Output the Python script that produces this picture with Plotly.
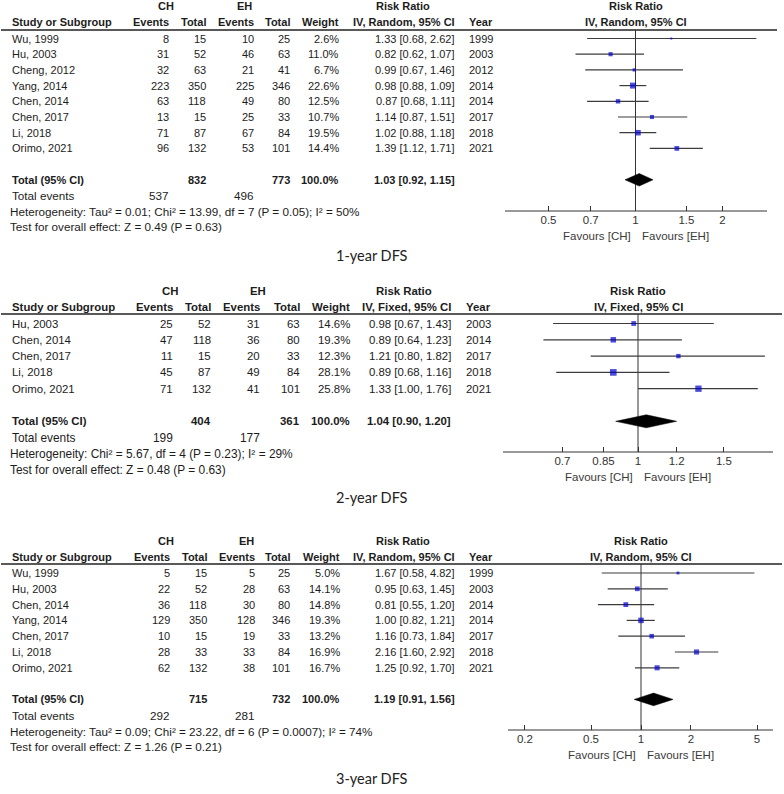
import math
import plotly.graph_objects as go

W, H = 784, 794

# ---------------- data ----------------
# Panel 1: 1-year DFS (IV, Random)
p1_study = ["Wu, 1999", "Hu, 2003", "Cheng, 2012", "Yang, 2014", "Chen, 2014", "Chen, 2017", "Li, 2018", "Orimo, 2021"]
p1_ch_events = [8, 31, 32, 223, 63, 13, 71, 96]
p1_ch_total = [15, 52, 63, 350, 118, 15, 87, 132]
p1_eh_events = [10, 46, 21, 225, 49, 25, 67, 53]
p1_eh_total = [25, 63, 41, 346, 80, 33, 84, 101]
p1_weight = [2.6, 11.0, 6.7, 22.6, 12.5, 10.7, 19.5, 14.4]
p1_rr = [1.33, 0.82, 0.99, 0.98, 0.87, 1.14, 1.02, 1.39]
p1_lo = [0.68, 0.62, 0.67, 0.88, 0.68, 0.87, 0.88, 1.12]
p1_hi = [2.62, 1.07, 1.46, 1.09, 1.11, 1.51, 1.18, 1.71]
p1_year = [1999, 2003, 2012, 2014, 2014, 2017, 2018, 2021]
p1_total = {"ch_total": 832, "eh_total": 773, "ch_events": 537, "eh_events": 496, "rr": 1.03, "lo": 0.92, "hi": 1.15}
p1_het = "Heterogeneity: Tau² = 0.01; Chi² = 13.99, df = 7 (P = 0.05); I² = 50%"
p1_test = "Test for overall effect: Z = 0.49 (P = 0.63)"
p1_ticks = [0.5, 0.7, 1, 1.5, 2]
p1_ticktext = ["0.5", "0.7", "1", "1.5", "2"]

# Panel 2: 2-year DFS (IV, Fixed)
p2_study = ["Hu, 2003", "Chen, 2014", "Chen, 2017", "Li, 2018", "Orimo, 2021"]
p2_ch_events = [25, 47, 11, 45, 71]
p2_ch_total = [52, 118, 15, 87, 132]
p2_eh_events = [31, 36, 20, 49, 41]
p2_eh_total = [63, 80, 33, 84, 101]
p2_weight = [14.6, 19.3, 12.3, 28.1, 25.8]
p2_rr = [0.98, 0.89, 1.21, 0.89, 1.33]
p2_lo = [0.67, 0.64, 0.80, 0.68, 1.00]
p2_hi = [1.43, 1.23, 1.82, 1.16, 1.76]
p2_year = [2003, 2014, 2017, 2018, 2021]
p2_total = {"ch_total": 404, "eh_total": 361, "ch_events": 199, "eh_events": 177, "rr": 1.04, "lo": 0.90, "hi": 1.20}
p2_het = "Heterogeneity: Chi² = 5.67, df = 4 (P = 0.23); I² = 29%"
p2_test = "Test for overall effect: Z = 0.48 (P = 0.63)"
p2_ticks = [0.7, 0.85, 1, 1.2, 1.5]
p2_ticktext = ["0.7", "0.85", "1", "1.2", "1.5"]

# Panel 3: 3-year DFS (IV, Random)
p3_study = ["Wu, 1999", "Hu, 2003", "Chen, 2014", "Yang, 2014", "Chen, 2017", "Li, 2018", "Orimo, 2021"]
p3_ch_events = [5, 22, 36, 129, 10, 28, 62]
p3_ch_total = [15, 52, 118, 350, 15, 33, 132]
p3_eh_events = [5, 28, 30, 128, 19, 33, 38]
p3_eh_total = [25, 63, 80, 346, 33, 84, 101]
p3_weight = [5.0, 14.1, 14.8, 19.3, 13.2, 16.9, 16.7]
p3_rr = [1.67, 0.95, 0.81, 1.00, 1.16, 2.16, 1.25]
p3_lo = [0.58, 0.63, 0.55, 0.82, 0.73, 1.60, 0.92]
p3_hi = [4.82, 1.45, 1.20, 1.21, 1.84, 2.92, 1.70]
p3_year = [1999, 2003, 2014, 2014, 2017, 2018, 2021]
p3_total = {"ch_total": 715, "eh_total": 732, "ch_events": 292, "eh_events": 281, "rr": 1.19, "lo": 0.91, "hi": 1.56}
p3_het = "Heterogeneity: Tau² = 0.09; Chi² = 23.22, df = 6 (P = 0.0007); I² = 74%"
p3_test = "Test for overall effect: Z = 1.26 (P = 0.21)"
p3_ticks = [0.2, 0.5, 1, 2, 5]
p3_ticktext = ["0.2", "0.5", "1", "2", "5"]

panel_data = [
    dict(study=p1_study, ce=p1_ch_events, ct=p1_ch_total, ee=p1_eh_events, et=p1_eh_total, w=p1_weight,
         rr=p1_rr, lo=p1_lo, hi=p1_hi, year=p1_year, tot=p1_total, het=p1_het, test=p1_test,
         ticks=p1_ticks, ticktext=p1_ticktext, method="IV, Random, 95% CI", title="1-year DFS"),
    dict(study=p2_study, ce=p2_ch_events, ct=p2_ch_total, ee=p2_eh_events, et=p2_eh_total, w=p2_weight,
         rr=p2_rr, lo=p2_lo, hi=p2_hi, year=p2_year, tot=p2_total, het=p2_het, test=p2_test,
         ticks=p2_ticks, ticktext=p2_ticktext, method="IV, Fixed, 95% CI", title="2-year DFS"),
    dict(study=p3_study, ce=p3_ch_events, ct=p3_ch_total, ee=p3_eh_events, et=p3_eh_total, w=p3_weight,
         rr=p3_rr, lo=p3_lo, hi=p3_hi, year=p3_year, tot=p3_total, het=p3_het, test=p3_test,
         ticks=p3_ticks, ticktext=p3_ticktext, method="IV, Random, 95% CI", title="3-year DFS"),
]

# ---------------- layout geometry (pixels) ----------------
panel_geom = [
    dict(r0=38.5, h=15.7, hdr1=6, hdr2=22, uline=30, axis=211, label=255, fs=11, fs2=11.7,
         ce=171, ct=208, ee=256, et=292, wt=341, ci=457, yr=467, chc=166, ehc=244, rrc=403,
         ax_l=505, ax_r=767, ax_c=635.5, ppl=289.0, ul_r=777),
    dict(r0=323.5, h=16.3, hdr1=291, hdr2=307, uline=314, axis=452, label=497, fs=11.4, fs2=11.9,
         ce=175, ct=213, ee=262, et=302, wt=352, ci=453, yr=464, chc=170, ehc=258, rrc=404,
         ax_l=503, ax_r=773, ax_c=638, ppl=488.0, ul_r=782),
    dict(r0=573, h=15.8, hdr1=541, hdr2=557, uline=564, axis=730, label=778, fs=11, fs2=11.7,
         ce=172, ct=209, ee=257, et=292, wt=342, ci=457, yr=467, chc=166, ehc=246, rrc=403,
         ax_l=508, ax_r=773, ax_c=641, ppl=166.0, ul_r=782),
]

FONT = "Liberation Sans, Arial, sans-serif"
TXT = "#1c1c1c"
SQ = "#0000CC"
LN = "#3c3c3c"

fig = go.Figure()
annotations = []
layout_axes = {}

for k, (D, G) in enumerate(zip(panel_data, panel_geom), start=1):
    xa = "x" if k == 1 else f"x{k}"
    ya = "y" if k == 1 else f"y{k}"
    r0, h = G["r0"], G["h"]
    n = len(D["study"])
    fs = G["fs"]

    def row(px):
        return (px - r0) / h

    def xval(px):
        # value on this panel's log axis located at horizontal pixel px
        return 10 ** ((px - G["ax_c"]) / G["ppl"])

    def add(text, xpx, yrow, xanchor="left", bold=False, size=None, color=TXT, family=FONT):
        annotations.append(dict(
            text=f"<b>{text}</b>" if bold else text, x=xpx / W, xref="paper", y=yrow, yref=ya,
            xanchor=xanchor, yanchor="middle", showarrow=False,
            font=dict(family=family, size=size or fs, color=color)))

    # headers
    add("CH", G["chc"], row(G["hdr1"]), "center", True)
    add("EH", G["ehc"], row(G["hdr1"]), "center", True)
    add("Risk Ratio", G["rrc"], row(G["hdr1"]), "center", True)
    add("Risk Ratio", G["ax_c"], row(G["hdr1"]), "center", True)
    add("Study or Subgroup", 10, row(G["hdr2"]), "left", True)
    add("Events", G["ce"], row(G["hdr2"]), "right", True)
    add("Total", G["ct"], row(G["hdr2"]), "right", True)
    add("Events", G["ee"], row(G["hdr2"]), "right", True)
    add("Total", G["et"], row(G["hdr2"]), "right", True)
    add("Weight", G["wt"], row(G["hdr2"]), "right", True)
    add(D["method"], G["ci"], row(G["hdr2"]), "right", True)
    add("Year", G["yr"], row(G["hdr2"]), "left", True)
    add(D["method"], G["ax_c"], row(G["hdr2"]), "center", True)

    # study rows
    for i in range(n):
        add(D["study"][i], 10, i)
        add(str(D["ce"][i]), G["ce"], i, "right")
        add(str(D["ct"][i]), G["ct"], i, "right")
        add(str(D["ee"][i]), G["ee"], i, "right")
        add(str(D["et"][i]), G["et"], i, "right")
        add(f"{D['w'][i]:.1f}%", G["wt"], i, "right")
        add(f"{D['rr'][i]:.2f} [{D['lo'][i]:.2f}, {D['hi'][i]:.2f}]", G["ci"], i, "right")
        add(str(D["year"][i]), G["yr"], i, "left")

    T = D["tot"]
    tr = n + 1
    add("Total (95% CI)", 10, tr, "left", True)
    add(str(T["ch_total"]), G["ct"], tr, "right", True)
    add(str(T["eh_total"]), G["et"], tr, "right", True)
    add("100.0%", G["wt"], tr, "right", True)
    add(f"{T['rr']:.2f} [{T['lo']:.2f}, {T['hi']:.2f}]", G["ci"], tr, "right", True)
    add("Total events", 10, tr + 1, size=G["fs2"])
    add(str(T["ch_events"]), G["ce"], tr + 1, "right", size=G["fs2"])
    add(str(T["eh_events"]), G["ee"], tr + 1, "right", size=G["fs2"])
    add(D["het"], 8, tr + 2, size=G["fs2"])
    add(D["test"], 8, tr + 3, size=G["fs2"])

    # favours labels
    add("Favours [CH]", G["ax_c"] - 3, row(G["axis"] + 25), "right", size=11.5, color="#3a3a3a")
    add("Favours [EH]", G["ax_c"] + 4, row(G["axis"] + 25), "left", size=11.5, color="#3a3a3a")

    # panel title
    add(D["title"], 372, row(G["label"]), "center", size=14.5, family="Lato, Carlito, sans-serif", color="#222")

    # header underline, drawn as several adjoining segments in this panel's own subplot
    seg_edges = [1, 200, 400, 600, G["ul_r"]]
    ux, uy = [], []
    for a, b in zip(seg_edges[:-1], seg_edges[1:]):
        ux += [xval(a), xval(b), None]
        uy += [row(G["uline"]), row(G["uline"]), None]
    fig.add_trace(go.Scatter(x=ux, y=uy, mode="lines",
                             line=dict(color="#222222", width=1.5), xaxis=xa, yaxis=ya,
                             hoverinfo="skip", showlegend=False))

    # forest x-axis baseline
    fig.add_trace(go.Scatter(x=[xval(G["ax_l"]), xval(G["ax_r"])], y=[row(G["axis"])] * 2, mode="lines",
                             line=dict(color="#333", width=1), xaxis=xa, yaxis=ya,
                             hoverinfo="skip", showlegend=False))

    # vertical line of no effect
    fig.add_trace(go.Scatter(x=[1, 1], y=[row(G["uline"]), row(G["axis"])], mode="lines",
                             line=dict(color="#333", width=1), xaxis=xa, yaxis=ya,
                             hoverinfo="skip", showlegend=False))

    # CI lines
    cx, cy = [], []
    for i in range(n):
        cx += [D["lo"][i], D["hi"][i], None]
        cy += [i, i, None]
    fig.add_trace(go.Scatter(x=cx, y=cy, mode="lines", line=dict(color=LN, width=1.2),
                             xaxis=xa, yaxis=ya, hoverinfo="skip", showlegend=False))

    # squares
    fig.add_trace(go.Scatter(x=D["rr"], y=list(range(n)), mode="markers",
                             marker=dict(symbol="square", color=SQ,
                                         size=[1.25 * math.sqrt(w) for w in D["w"]],
                                         line=dict(width=0)),
                             xaxis=xa, yaxis=ya, showlegend=False))

    # diamond
    fig.add_trace(go.Scatter(x=[T["lo"], T["rr"], T["hi"], T["rr"], T["lo"]],
                             y=[tr, tr - 0.4, tr, tr + 0.4, tr], mode="lines", fill="toself",
                             fillcolor="black", line=dict(color="black", width=0.5),
                             xaxis=xa, yaxis=ya, hoverinfo="skip", showlegend=False))

    xkey = "xaxis" if k == 1 else f"xaxis{k}"
    ykey = "yaxis" if k == 1 else f"yaxis{k}"
    layout_axes[xkey] = dict(
        type="log", domain=[0, 1],
        range=[(0 - G["ax_c"]) / G["ppl"], (W - G["ax_c"]) / G["ppl"]],
        anchor="free", position=1 - G["axis"] / H,
        showline=False,
        ticks="inside", ticklen=5, tickwidth=1, tickcolor="#333",
        tickvals=D["ticks"], ticktext=D["ticktext"],
        tickfont=dict(family=FONT, size=11.5, color="#333"),
        showgrid=False, zeroline=False)
    layout_axes[ykey] = dict(
        domain=[0, 1], range=[(H - r0) / h, -r0 / h], visible=False,
        showgrid=False, zeroline=False, anchor=xa)

fig.update_layout(
    width=W, height=H, margin=dict(l=0, r=0, t=0, b=0),
    paper_bgcolor="white", plot_bgcolor="rgba(0,0,0,0)",
    showlegend=False, annotations=annotations,
    **layout_axes)

fig.write_html("out.html", config={"displayModeBar": False},
               post_script="document.body.style.margin='0';")
